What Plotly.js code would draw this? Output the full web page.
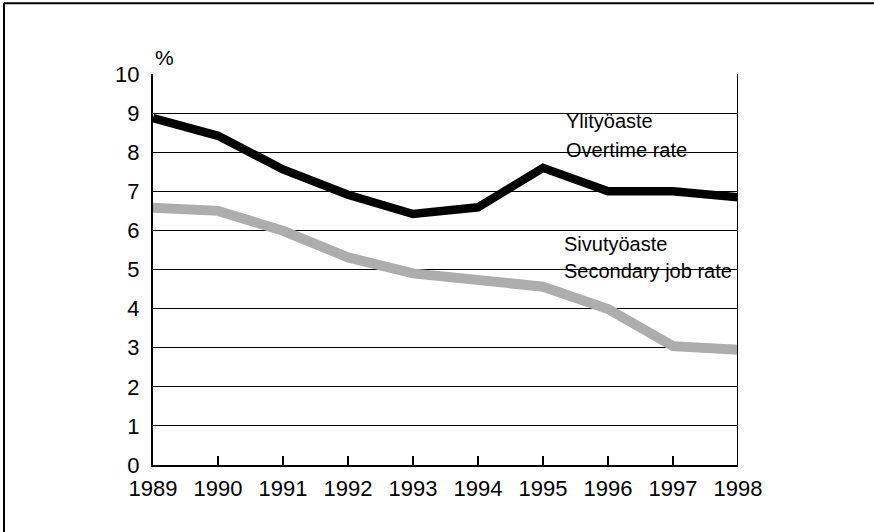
<!DOCTYPE html>
<html>
<head>
<meta charset="utf-8">
<script src="https://cdn.plot.ly/plotly-3.0.1.min.js"></script>
<style>
html,body{margin:0;padding:0;background:#fff;}
#chart{width:874px;height:532px;}
</style>
</head>
<body>
<div id="chart"></div>
<script>
const years = [1989, 1990, 1991, 1992, 1993, 1994, 1995, 1996, 1997, 1998];
const overtimeRate = [8.87, 8.42, 7.56, 6.91, 6.42, 6.59, 7.6, 7.0, 7.0, 6.85];
const secondaryJobRate = [6.58, 6.5, 5.99, 5.31, 4.9, 4.76, 4.56, 3.99, 3.04, 2.95];
const yTicks = [0, 1, 2, 3, 4, 5, 6, 7, 8, 9, 10];
const labelOvertime = ["Ylityöaste", "Overtime rate"];
const labelSecondary = ["Sivutyöaste", "Secondary job rate"];
const unitLabel = "%";

const FONT = '"Liberation Sans", Arial, sans-serif';

const traces = [
  {
    x: years, y: secondaryJobRate, type: 'scatter', mode: 'lines',
    line: {color: '#adadad', width: 10}, hoverinfo: 'skip'
  },
  {
    x: years, y: overtimeRate, type: 'scatter', mode: 'lines',
    line: {color: '#000000', width: 8.5}, hoverinfo: 'skip'
  }
];

const textFont = {family: FONT, size: 20, color: '#000'};
const layout = {
  width: 874, height: 532,
  margin: {l: 153, r: 136, t: 74, b: 67, pad: 0},
  paper_bgcolor: '#fff', plot_bgcolor: '#fff',
  showlegend: false,
  font: {family: FONT, size: 22, color: '#000'},
  xaxis: {
    range: [1989, 1998], tickvals: years, ticktext: years.map(String),
    showgrid: false, zeroline: false,
    showline: true, linecolor: '#000', linewidth: 2,
    ticks: 'inside', ticklen: 9, tickwidth: 1.2, tickcolor: '#000',
    ticklabelstandoff: 3,
    tickfont: {family: FONT, size: 22, color: '#000'},
    fixedrange: true
  },
  yaxis: {
    range: [0, 10], tickvals: yTicks, ticktext: yTicks.map(String),
    showgrid: true, gridcolor: '#000', gridwidth: 1,
    zeroline: false,
    showline: true, linecolor: '#000', linewidth: 2,
    ticks: '', ticklabelstandoff: 7,
    tickfont: {family: FONT, size: 22, color: '#000'},
    fixedrange: true
  },
  shapes: [
    {type: 'line', xref: 'x', yref: 'paper', x0: 1998, x1: 1998, y0: 0, y1: 1, line: {color: '#000', width: 2}},
    {type: 'line', xref: 'paper', yref: 'paper', x0: -0.2547, x1: 1.3, y0: 1.181, y1: 1.181, line: {color: '#000', width: 2}},
    {type: 'line', xref: 'paper', yref: 'paper', x0: -0.2547, x1: -0.2547, y0: -0.2, y1: 1.181, line: {color: '#000', width: 2}}
  ],
  annotations: [
    {text: unitLabel, xref: 'paper', yref: 'paper', x: 0.0, y: 1.043, xanchor: 'left', yanchor: 'middle', showarrow: false, font: {family: FONT, size: 21, color: '#000'}},
    {text: labelOvertime[0], xref: 'x', yref: 'y', x: 1995.33, y: 8.8, xanchor: 'left', yanchor: 'middle', showarrow: false, font: textFont},
    {text: labelOvertime[1], xref: 'x', yref: 'y', x: 1995.32, y: 8.05, xanchor: 'left', yanchor: 'middle', showarrow: false, font: textFont},
    {text: labelSecondary[0], xref: 'x', yref: 'y', x: 1995.29, y: 5.65, xanchor: 'left', yanchor: 'middle', showarrow: false, font: textFont},
    {text: labelSecondary[1], xref: 'x', yref: 'y', x: 1995.29, y: 4.95, xanchor: 'left', yanchor: 'middle', showarrow: false, font: textFont}
  ]
};

Plotly.newPlot('chart', traces, layout, {displayModeBar: false, staticPlot: true});
</script>
</body>
</html>
